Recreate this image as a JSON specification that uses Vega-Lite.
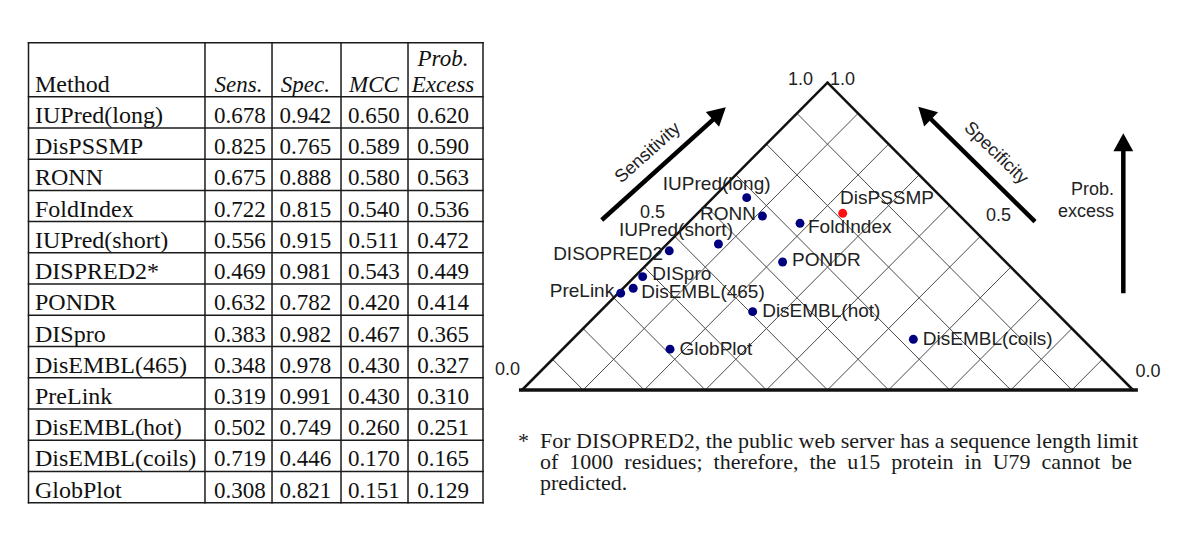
{
  "$schema": "https://vega.github.io/schema/vega-lite/v6.json",
  "background": "white",
  "padding": 0,
  "spacing": 0,
  "bounds": "flush",
  "config": {"view": {"stroke": null}},
  "datasets": {
    "methods": [
      {"method": "IUPred(long)", "sens": 0.678, "spec": 0.942, "mcc": 0.650, "excess": 0.620},
      {"method": "DisPSSMP", "sens": 0.825, "spec": 0.765, "mcc": 0.589, "excess": 0.590},
      {"method": "RONN", "sens": 0.675, "spec": 0.888, "mcc": 0.580, "excess": 0.563},
      {"method": "FoldIndex", "sens": 0.722, "spec": 0.815, "mcc": 0.540, "excess": 0.536},
      {"method": "IUPred(short)", "sens": 0.556, "spec": 0.915, "mcc": 0.511, "excess": 0.472},
      {"method": "DISPRED2*", "sens": 0.469, "spec": 0.981, "mcc": 0.543, "excess": 0.449},
      {"method": "PONDR", "sens": 0.632, "spec": 0.782, "mcc": 0.420, "excess": 0.414},
      {"method": "DISpro", "sens": 0.383, "spec": 0.982, "mcc": 0.467, "excess": 0.365},
      {"method": "DisEMBL(465)", "sens": 0.348, "spec": 0.978, "mcc": 0.430, "excess": 0.327},
      {"method": "PreLink", "sens": 0.319, "spec": 0.991, "mcc": 0.430, "excess": 0.310},
      {"method": "DisEMBL(hot)", "sens": 0.502, "spec": 0.749, "mcc": 0.260, "excess": 0.251},
      {"method": "DisEMBL(coils)", "sens": 0.719, "spec": 0.446, "mcc": 0.170, "excess": 0.165},
      {"method": "GlobPlot", "sens": 0.308, "spec": 0.821, "mcc": 0.151, "excess": 0.129}
    ],
    "plot": [
      {"method": "IUPred(long)", "diff": -0.2645, "excess": 0.626},
      {"method": "RONN", "diff": -0.213, "excess": 0.566},
      {"method": "FoldIndex", "diff": -0.090, "excess": 0.5425},
      {"method": "DisPSSMP", "diff": 0.0498, "excess": 0.575},
      {"method": "IUPred(short)", "diff": -0.357, "excess": 0.475},
      {"method": "DISOPRED2", "diff": -0.518, "excess": 0.453},
      {"method": "PONDR", "diff": -0.147, "excess": 0.4165},
      {"method": "DISpro", "diff": -0.605, "excess": 0.369},
      {"method": "DisEMBL(465)", "diff": -0.636, "excess": 0.331},
      {"method": "PreLink", "diff": -0.677, "excess": 0.315},
      {"method": "DisEMBL(hot)", "diff": -0.245, "excess": 0.255},
      {"method": "GlobPlot", "diff": -0.5155, "excess": 0.133},
      {"method": "DisEMBL(coils)", "diff": 0.281, "excess": 0.165}
    ],
    "grid": [
      {"x": -0.8, "y": 0, "x2": -0.9, "y2": 0.1},
      {"x": -0.6, "y": 0, "x2": -0.8, "y2": 0.2},
      {"x": -0.4, "y": 0, "x2": -0.7, "y2": 0.3},
      {"x": -0.2, "y": 0, "x2": -0.6, "y2": 0.4},
      {"x": 0.0, "y": 0, "x2": -0.5, "y2": 0.5},
      {"x": 0.2, "y": 0, "x2": -0.4, "y2": 0.6},
      {"x": 0.4, "y": 0, "x2": -0.3, "y2": 0.7},
      {"x": 0.6, "y": 0, "x2": -0.2, "y2": 0.8},
      {"x": 0.8, "y": 0, "x2": -0.1, "y2": 0.9},
      {"x": 0.8, "y": 0, "x2": 0.9, "y2": 0.1},
      {"x": 0.6, "y": 0, "x2": 0.8, "y2": 0.2},
      {"x": 0.4, "y": 0, "x2": 0.7, "y2": 0.3},
      {"x": 0.2, "y": 0, "x2": 0.6, "y2": 0.4},
      {"x": 0.0, "y": 0, "x2": 0.5, "y2": 0.5},
      {"x": -0.2, "y": 0, "x2": 0.4, "y2": 0.6},
      {"x": -0.4, "y": 0, "x2": 0.3, "y2": 0.7},
      {"x": -0.6, "y": 0, "x2": 0.2, "y2": 0.8},
      {"x": -0.8, "y": 0, "x2": 0.1, "y2": 0.9}
    ]
  },
  "hconcat": [
    {
      "width": 495,
      "height": 540,
      "layer": [
        {
          "data": {"values": [{"x": 0}, {"x": 38.83}, {"x": 53.58}, {"x": 68.76}, {"x": 83.5}, {"x": 100}]},
          "mark": {"type": "rule", "color": "#1a1a1a", "strokeWidth": 1.5, "strokeCap": "square"},
          "encoding": {
            "x": {"field": "x", "type": "quantitative", "scale": {"domain": [-6.27, 102.64], "nice": false, "zero": false}, "axis": null},
            "y": {"datum": -1.729, "type": "quantitative", "scale": {"domain": [-3.096, 14.194], "nice": false, "zero": false, "reverse": true}, "axis": null},
            "y2": {"datum": 13}
          }
        },
        {
          "data": {"values": [{"y": -1.729}, {"y": 0}]},
          "mark": {"type": "rule", "color": "#1a1a1a", "strokeWidth": 1.5, "strokeCap": "square"},
          "encoding": {
            "y": {"field": "y", "type": "quantitative", "scale": {"domain": [-3.096, 14.194], "nice": false, "zero": false, "reverse": true}, "axis": null},
            "x": {"datum": 0, "type": "quantitative", "scale": {"domain": [-6.27, 102.64], "nice": false, "zero": false}, "axis": null},
            "x2": {"datum": 100}
          }
        },
        {
          "data": {"name": "methods"},
          "transform": [{"window": [{"op": "row_number", "as": "row"}], "sort": [{"field": "excess", "order": "descending"}]}],
          "mark": {"type": "rule", "color": "#1a1a1a", "strokeWidth": 1.5, "strokeCap": "square"},
          "encoding": {
            "y": {"field": "row", "type": "quantitative", "scale": {"domain": [-3.096, 14.194], "nice": false, "zero": false, "reverse": true}, "axis": null},
            "x": {"datum": 0, "type": "quantitative", "scale": {"domain": [-6.27, 102.64], "nice": false, "zero": false}, "axis": null},
            "x2": {"datum": 100}
          }
        },
        {
          "data": {"name": "methods"},
          "transform": [{"window": [{"op": "row_number", "as": "row"}], "sort": [{"field": "excess", "order": "descending"}]}],
          "mark": {"type": "text", "font": "Liberation Serif", "fontSize": 24, "align": "left", "baseline": "alphabetic", "dy": -5, "color": "#111"},
          "encoding": {
            "y": {"field": "row", "type": "quantitative", "scale": {"domain": [-3.096, 14.194], "nice": false, "zero": false, "reverse": true}, "axis": null},
            "x": {"datum": 1.43, "type": "quantitative", "scale": {"domain": [-6.27, 102.64], "nice": false, "zero": false}, "axis": null},
            "text": {"field": "method", "type": "nominal"}
          }
        },
        {
          "data": {"name": "methods"},
          "transform": [{"window": [{"op": "row_number", "as": "row"}], "sort": [{"field": "excess", "order": "descending"}]}],
          "mark": {"type": "text", "font": "Liberation Serif", "fontSize": 23, "align": "center", "baseline": "alphabetic", "dy": -5, "color": "#111"},
          "encoding": {
            "y": {"field": "row", "type": "quantitative", "scale": {"domain": [-3.096, 14.194], "nice": false, "zero": false, "reverse": true}, "axis": null},
            "x": {"datum": 46.5, "type": "quantitative", "scale": {"domain": [-6.27, 102.64], "nice": false, "zero": false}, "axis": null},
            "text": {"field": "sens", "type": "quantitative", "format": ".3f"}
          }
        },
        {
          "data": {"name": "methods"},
          "transform": [{"window": [{"op": "row_number", "as": "row"}], "sort": [{"field": "excess", "order": "descending"}]}],
          "mark": {"type": "text", "font": "Liberation Serif", "fontSize": 23, "align": "center", "baseline": "alphabetic", "dy": -5, "color": "#111"},
          "encoding": {
            "y": {"field": "row", "type": "quantitative", "scale": {"domain": [-3.096, 14.194], "nice": false, "zero": false, "reverse": true}, "axis": null},
            "x": {"datum": 60.9, "type": "quantitative", "scale": {"domain": [-6.27, 102.64], "nice": false, "zero": false}, "axis": null},
            "text": {"field": "spec", "type": "quantitative", "format": ".3f"}
          }
        },
        {
          "data": {"name": "methods"},
          "transform": [{"window": [{"op": "row_number", "as": "row"}], "sort": [{"field": "excess", "order": "descending"}]}],
          "mark": {"type": "text", "font": "Liberation Serif", "fontSize": 23, "align": "center", "baseline": "alphabetic", "dy": -5, "color": "#111"},
          "encoding": {
            "y": {"field": "row", "type": "quantitative", "scale": {"domain": [-3.096, 14.194], "nice": false, "zero": false, "reverse": true}, "axis": null},
            "x": {"datum": 76.0, "type": "quantitative", "scale": {"domain": [-6.27, 102.64], "nice": false, "zero": false}, "axis": null},
            "text": {"field": "mcc", "type": "quantitative", "format": ".3f"}
          }
        },
        {
          "data": {"name": "methods"},
          "transform": [{"window": [{"op": "row_number", "as": "row"}], "sort": [{"field": "excess", "order": "descending"}]}],
          "mark": {"type": "text", "font": "Liberation Serif", "fontSize": 23, "align": "center", "baseline": "alphabetic", "dy": -5, "color": "#111"},
          "encoding": {
            "y": {"field": "row", "type": "quantitative", "scale": {"domain": [-3.096, 14.194], "nice": false, "zero": false, "reverse": true}, "axis": null},
            "x": {"datum": 91.2, "type": "quantitative", "scale": {"domain": [-6.27, 102.64], "nice": false, "zero": false}, "axis": null},
            "text": {"field": "excess", "type": "quantitative", "format": ".3f"}
          }
        },
        {
          "data": {"values": [{"label": "Method"}]},
          "mark": {"type": "text", "font": "Liberation Serif", "fontSize": 24, "align": "left", "baseline": "alphabetic", "dy": -5, "color": "#111"},
          "encoding": {
            "y": {"datum": 0, "type": "quantitative", "scale": {"domain": [-3.096, 14.194], "nice": false, "zero": false, "reverse": true}, "axis": null},
            "x": {"datum": 1.43, "type": "quantitative", "scale": {"domain": [-6.27, 102.64], "nice": false, "zero": false}, "axis": null},
            "text": {"field": "label", "type": "nominal"}
          }
        },
        {
          "data": {"values": [{"label": "Sens.", "col": 46.2, "line": 0}, {"label": "Spec.", "col": 60.9, "line": 0}, {"label": "MCC", "col": 76.0, "line": 0}, {"label": "Excess", "col": 91.2, "line": 0}, {"label": "Prob.", "col": 91.2, "line": -0.82}]},
          "mark": {"type": "text", "font": "Liberation Serif", "fontSize": 23, "fontStyle": "italic", "align": "center", "baseline": "alphabetic", "dy": -5, "color": "#111"},
          "encoding": {
            "y": {"field": "line", "type": "quantitative", "scale": {"domain": [-3.096, 14.194], "nice": false, "zero": false, "reverse": true}, "axis": null},
            "x": {"field": "col", "type": "quantitative", "scale": {"domain": [-6.27, 102.64], "nice": false, "zero": false}, "axis": null},
            "text": {"field": "label", "type": "nominal"}
          }
        }
      ]
    },
    {
      "width": 705,
      "height": 540,
      "layer": [
        {
          "data": {"name": "grid"},
          "mark": {"type": "rule", "color": "#4a4a4a", "strokeWidth": 1},
          "encoding": {
            "x": {"field": "x", "type": "quantitative", "scale": {"domain": [-1.0884, 1.2193], "nice": false, "zero": false}, "axis": null},
            "y": {"field": "y", "type": "quantitative", "scale": {"domain": [-0.4881, 1.2691], "nice": false, "zero": false}, "axis": null},
            "x2": {"field": "x2"},
            "y2": {"field": "y2"}
          }
        },
        {
          "data": {"values": [{"x": -1, "y": 0, "x2": 0, "y2": 1}, {"x": 0, "y": 1, "x2": 1, "y2": 0}]},
          "mark": {"type": "rule", "color": "#111", "strokeWidth": 2.5, "strokeCap": "round"},
          "encoding": {
            "x": {"field": "x", "type": "quantitative", "scale": {"domain": [-1.0884, 1.2193], "nice": false, "zero": false}, "axis": null},
            "y": {"field": "y", "type": "quantitative", "scale": {"domain": [-0.4881, 1.2691], "nice": false, "zero": false}, "axis": null},
            "x2": {"field": "x2"},
            "y2": {"field": "y2"}
          }
        },
        {
          "data": {"values": [{}]},
          "mark": {"type": "rule", "color": "#111", "strokeWidth": 3.5},
          "encoding": {
            "x": {"datum": -1.01, "type": "quantitative", "scale": {"domain": [-1.0884, 1.2193], "nice": false, "zero": false}, "axis": null},
            "x2": {"datum": 1.016},
            "y": {"datum": 0, "type": "quantitative", "scale": {"domain": [-0.4881, 1.2691], "nice": false, "zero": false}, "axis": null}
          }
        },
        {
          "data": {"values": [{"label": "1.0", "x": -0.0475, "y": 0.9925}, {"label": "0.5", "x": -0.5319, "y": 0.5597}, {"label": "0.0", "x": -1.0065, "y": 0.0488}]},
          "mark": {"type": "text", "font": "Liberation Sans", "fontSize": 18, "align": "right", "baseline": "alphabetic", "color": "#222"},
          "encoding": {
            "x": {"field": "x", "type": "quantitative", "scale": {"domain": [-1.0884, 1.2193], "nice": false, "zero": false}, "axis": null},
            "y": {"field": "y", "type": "quantitative", "scale": {"domain": [-0.4881, 1.2691], "nice": false, "zero": false}, "axis": null},
            "text": {"field": "label", "type": "nominal"}
          }
        },
        {
          "data": {"values": [{"label": "1.0", "x": 0.0082, "y": 0.9925}, {"label": "0.5", "x": 0.5188, "y": 0.5509}, {"label": "0.0", "x": 1.0082, "y": 0.0434}]},
          "mark": {"type": "text", "font": "Liberation Sans", "fontSize": 18, "align": "left", "baseline": "alphabetic", "color": "#222"},
          "encoding": {
            "x": {"field": "x", "type": "quantitative", "scale": {"domain": [-1.0884, 1.2193], "nice": false, "zero": false}, "axis": null},
            "y": {"field": "y", "type": "quantitative", "scale": {"domain": [-0.4881, 1.2691], "nice": false, "zero": false}, "axis": null},
            "text": {"field": "label", "type": "nominal"}
          }
        },
        {
          "data": {"values": [{"x": -0.739, "y": 0.5532, "x2": -0.3519, "y2": 0.9004}, {"x": 0.6792, "y": 0.5477, "x2": 0.3182, "y2": 0.9014}, {"x": 0.9683, "y": 0.3147, "x2": 0.9683, "y2": 0.806}]},
          "mark": {"type": "rule", "color": "#000", "strokeWidth": 4.5},
          "encoding": {
            "x": {"field": "x", "type": "quantitative", "scale": {"domain": [-1.0884, 1.2193], "nice": false, "zero": false}, "axis": null},
            "y": {"field": "y", "type": "quantitative", "scale": {"domain": [-0.4881, 1.2691], "nice": false, "zero": false}, "axis": null},
            "x2": {"field": "x2"},
            "y2": {"field": "y2"}
          }
        },
        {
          "data": {"values": [{}]},
          "mark": {"type": "point", "shape": "M0,0L-0.55,1L0.55,1Z", "filled": true, "opacity": 1, "color": "#000", "size": 1296, "angle": 48},
          "encoding": {
            "x": {"datum": -0.3329, "type": "quantitative", "scale": {"domain": [-1.0884, 1.2193], "nice": false, "zero": false}, "axis": null},
            "y": {"datum": 0.9199, "type": "quantitative", "scale": {"domain": [-0.4881, 1.2691], "nice": false, "zero": false}, "axis": null}
          }
        },
        {
          "data": {"values": [{}]},
          "mark": {"type": "point", "shape": "M0,0L-0.55,1L0.55,1Z", "filled": true, "opacity": 1, "color": "#000", "size": 1296, "angle": 314.6},
          "encoding": {
            "x": {"datum": 0.2972, "type": "quantitative", "scale": {"domain": [-1.0884, 1.2193], "nice": false, "zero": false}, "axis": null},
            "y": {"datum": 0.9219, "type": "quantitative", "scale": {"domain": [-0.4881, 1.2691], "nice": false, "zero": false}, "axis": null}
          }
        },
        {
          "data": {"values": [{}]},
          "mark": {"type": "point", "shape": "M0,0L-0.55,1L0.55,1Z", "filled": true, "opacity": 1, "color": "#000", "size": 1296, "angle": 0},
          "encoding": {
            "x": {"datum": 0.9683, "type": "quantitative", "scale": {"domain": [-1.0884, 1.2193], "nice": false, "zero": false}, "axis": null},
            "y": {"datum": 0.8353, "type": "quantitative", "scale": {"domain": [-0.4881, 1.2691], "nice": false, "zero": false}, "axis": null}
          }
        },
        {
          "data": {"values": [{"label": "Sensitivity"}]},
          "mark": {"type": "text", "font": "Liberation Sans", "fontSize": 18, "align": "center", "baseline": "middle", "angle": 318, "color": "#222"},
          "encoding": {
            "x": {"datum": -0.5876, "type": "quantitative", "scale": {"domain": [-1.0884, 1.2193], "nice": false, "zero": false}, "axis": null},
            "y": {"datum": 0.7712, "type": "quantitative", "scale": {"domain": [-0.4881, 1.2691], "nice": false, "zero": false}, "axis": null},
            "text": {"field": "label", "type": "nominal"}
          }
        },
        {
          "data": {"values": [{"label": "Specificity"}]},
          "mark": {"type": "text", "font": "Liberation Sans", "fontSize": 18, "align": "center", "baseline": "middle", "angle": 44, "color": "#222"},
          "encoding": {
            "x": {"datum": 0.5509, "type": "quantitative", "scale": {"domain": [-1.0884, 1.2193], "nice": false, "zero": false}, "axis": null},
            "y": {"datum": 0.7703, "type": "quantitative", "scale": {"domain": [-0.4881, 1.2691], "nice": false, "zero": false}, "axis": null},
            "text": {"field": "label", "type": "nominal"}
          }
        },
        {
          "data": {"values": [{"label": "Prob.", "y": 0.6346}, {"label": "excess", "y": 0.564}]},
          "mark": {"type": "text", "font": "Liberation Sans", "fontSize": 18, "align": "right", "baseline": "alphabetic", "color": "#222"},
          "encoding": {
            "x": {"datum": 0.9378, "type": "quantitative", "scale": {"domain": [-1.0884, 1.2193], "nice": false, "zero": false}, "axis": null},
            "y": {"field": "y", "type": "quantitative", "scale": {"domain": [-0.4881, 1.2691], "nice": false, "zero": false}, "axis": null},
            "text": {"field": "label", "type": "nominal"}
          }
        },
        {
          "data": {"name": "plot"},
          "mark": {"type": "circle", "size": 80, "opacity": 1},
          "encoding": {
            "x": {"field": "diff", "type": "quantitative", "scale": {"domain": [-1.0884, 1.2193], "nice": false, "zero": false}, "axis": null},
            "y": {"field": "excess", "type": "quantitative", "scale": {"domain": [-0.4881, 1.2691], "nice": false, "zero": false}, "axis": null},
            "color": {"condition": {"test": "datum.method === 'DisPSSMP'", "value": "#ff1010"}, "value": "#00007f"}
          }
        },
        {
          "data": {"name": "plot"},
          "transform": [{"filter": {"field": "method", "oneOf": ["FoldIndex", "DisEMBL(465)"]}}],
          "mark": {"type": "text", "font": "Liberation Sans", "fontSize": 19, "align": "left", "baseline": "alphabetic", "dx": 8, "dy": 10, "color": "#222"},
          "encoding": {
            "x": {"field": "diff", "type": "quantitative", "scale": {"domain": [-1.0884, 1.2193], "nice": false, "zero": false}, "axis": null},
            "y": {"field": "excess", "type": "quantitative", "scale": {"domain": [-0.4881, 1.2691], "nice": false, "zero": false}, "axis": null},
            "text": {"field": "method", "type": "nominal"}
          }
        },
        {
          "data": {"name": "plot"},
          "transform": [{"filter": {"field": "method", "oneOf": ["PONDR", "DISpro"]}}],
          "mark": {"type": "text", "font": "Liberation Sans", "fontSize": 19, "align": "left", "baseline": "alphabetic", "dx": 9.5, "dy": 3.5, "color": "#222"},
          "encoding": {
            "x": {"field": "diff", "type": "quantitative", "scale": {"domain": [-1.0884, 1.2193], "nice": false, "zero": false}, "axis": null},
            "y": {"field": "excess", "type": "quantitative", "scale": {"domain": [-0.4881, 1.2691], "nice": false, "zero": false}, "axis": null},
            "text": {"field": "method", "type": "nominal"}
          }
        },
        {
          "data": {"name": "plot"},
          "transform": [{"filter": {"field": "method", "oneOf": ["DisEMBL(hot)", "GlobPlot", "DisEMBL(coils)"]}}],
          "mark": {"type": "text", "font": "Liberation Sans", "fontSize": 19, "align": "left", "baseline": "alphabetic", "dx": 9.5, "dy": 5.5, "color": "#222"},
          "encoding": {
            "x": {"field": "diff", "type": "quantitative", "scale": {"domain": [-1.0884, 1.2193], "nice": false, "zero": false}, "axis": null},
            "y": {"field": "excess", "type": "quantitative", "scale": {"domain": [-0.4881, 1.2691], "nice": false, "zero": false}, "axis": null},
            "text": {"field": "method", "type": "nominal"}
          }
        },
        {
          "data": {"name": "plot"},
          "transform": [{"filter": {"field": "method", "oneOf": ["DISOPRED2"]}}],
          "mark": {"type": "text", "font": "Liberation Sans", "fontSize": 19, "align": "right", "baseline": "alphabetic", "dx": -6.3, "dy": 9.3, "color": "#222"},
          "encoding": {
            "x": {"field": "diff", "type": "quantitative", "scale": {"domain": [-1.0884, 1.2193], "nice": false, "zero": false}, "axis": null},
            "y": {"field": "excess", "type": "quantitative", "scale": {"domain": [-0.4881, 1.2691], "nice": false, "zero": false}, "axis": null},
            "text": {"field": "method", "type": "nominal"}
          }
        },
        {
          "data": {"name": "plot"},
          "transform": [{"filter": {"field": "method", "oneOf": ["PreLink", "RONN"]}}],
          "mark": {"type": "text", "font": "Liberation Sans", "fontSize": 19, "align": "right", "baseline": "alphabetic", "dx": -6.5, "dy": 4, "color": "#222"},
          "encoding": {
            "x": {"field": "diff", "type": "quantitative", "scale": {"domain": [-1.0884, 1.2193], "nice": false, "zero": false}, "axis": null},
            "y": {"field": "excess", "type": "quantitative", "scale": {"domain": [-0.4881, 1.2691], "nice": false, "zero": false}, "axis": null},
            "text": {"field": "method", "type": "nominal"}
          }
        },
        {
          "data": {"name": "plot"},
          "transform": [{"filter": {"field": "method", "oneOf": ["IUPred(long)"]}}],
          "mark": {"type": "text", "font": "Liberation Sans", "fontSize": 19, "align": "center", "baseline": "alphabetic", "dx": -30, "dy": -7.7, "color": "#222"},
          "encoding": {
            "x": {"field": "diff", "type": "quantitative", "scale": {"domain": [-1.0884, 1.2193], "nice": false, "zero": false}, "axis": null},
            "y": {"field": "excess", "type": "quantitative", "scale": {"domain": [-0.4881, 1.2691], "nice": false, "zero": false}, "axis": null},
            "text": {"field": "method", "type": "nominal"}
          }
        },
        {
          "data": {"name": "plot"},
          "transform": [{"filter": {"field": "method", "oneOf": ["IUPred(short)"]}}],
          "mark": {"type": "text", "font": "Liberation Sans", "fontSize": 19, "align": "center", "baseline": "alphabetic", "dx": -42.5, "dy": -8.3, "color": "#222"},
          "encoding": {
            "x": {"field": "diff", "type": "quantitative", "scale": {"domain": [-1.0884, 1.2193], "nice": false, "zero": false}, "axis": null},
            "y": {"field": "excess", "type": "quantitative", "scale": {"domain": [-0.4881, 1.2691], "nice": false, "zero": false}, "axis": null},
            "text": {"field": "method", "type": "nominal"}
          }
        },
        {
          "data": {"name": "plot"},
          "transform": [{"filter": {"field": "method", "oneOf": ["DisPSSMP"]}}],
          "mark": {"type": "text", "font": "Liberation Sans", "fontSize": 19, "align": "left", "baseline": "alphabetic", "dx": -2.7, "dy": -9.3, "color": "#222"},
          "encoding": {
            "x": {"field": "diff", "type": "quantitative", "scale": {"domain": [-1.0884, 1.2193], "nice": false, "zero": false}, "axis": null},
            "y": {"field": "excess", "type": "quantitative", "scale": {"domain": [-0.4881, 1.2691], "nice": false, "zero": false}, "axis": null},
            "text": {"field": "method", "type": "nominal"}
          }
        },
        {
          "data": {"values": [{"label": "*"}]},
          "mark": {"type": "text", "font": "Liberation Serif", "fontSize": 22, "align": "left", "baseline": "alphabetic", "color": "#1a1a1a"},
          "encoding": {
            "x": {"datum": -1.0131, "type": "quantitative", "scale": {"domain": [-1.0884, 1.2193], "nice": false, "zero": false}, "axis": null},
            "y": {"datum": -0.1887, "type": "quantitative", "scale": {"domain": [-0.4881, 1.2691], "nice": false, "zero": false}, "axis": null},
            "text": {"field": "label", "type": "nominal"}
          }
        },
        {
          "data": {"values": [
            {"label": "For DISOPRED2, the public web server has a sequence length limit", "line": -0.1887},
            {"label": "of\u20021000\u2002residues;\u2002therefore,\u2002the\u2002u15\u2002protein\u2002in\u2002U79\u2002cannot\u2002be", "line": -0.257},
            {"label": "predicted.", "line": -0.3254}
          ]},
          "mark": {"type": "text", "font": "Liberation Serif", "fontSize": 22, "align": "left", "baseline": "alphabetic", "color": "#1a1a1a"},
          "encoding": {
            "x": {"datum": -0.9411, "type": "quantitative", "scale": {"domain": [-1.0884, 1.2193], "nice": false, "zero": false}, "axis": null},
            "y": {"field": "line", "type": "quantitative", "scale": {"domain": [-0.4881, 1.2691], "nice": false, "zero": false}, "axis": null},
            "text": {"field": "label", "type": "nominal"}
          }
        }
      ]
    }
  ]
}
